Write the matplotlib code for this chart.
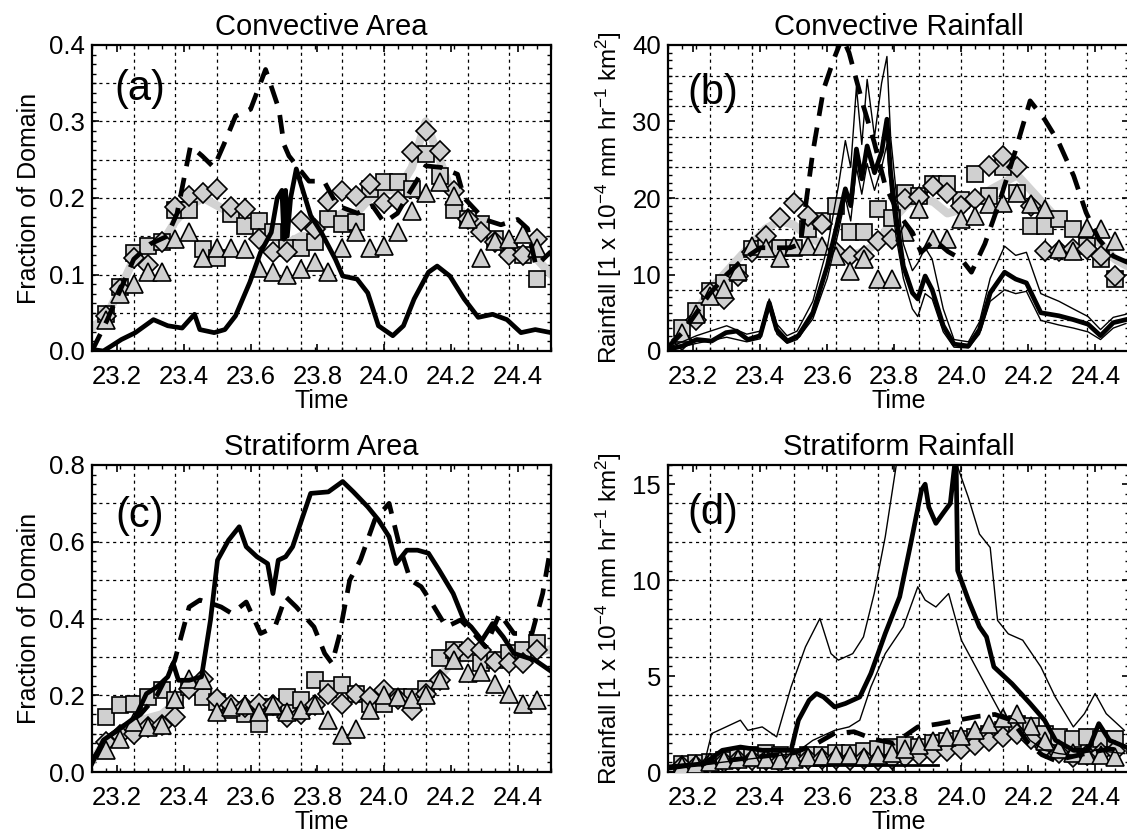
import numpy as np
import matplotlib
matplotlib.use("Agg")
import matplotlib.pyplot as plt
from matplotlib.ticker import MultipleLocator, FormatStrFormatter

plt.rcParams['font.family'] = ['Liberation Sans', 'DejaVu Sans']
plt.rcParams['mathtext.fontset'] = 'custom'
plt.rcParams['mathtext.rm'] = 'Liberation Sans'
plt.rcParams['mathtext.it'] = 'Liberation Sans'

# ---------------- time axes ----------------
marker_hours = np.arange(4, 36)          # hourly marker times (hour of day 23)
gray_hours = np.arange(3, 37)
marker_t = 23 + marker_hours / 24.0
gray_t = 23 + gray_hours / 24.0

# ---------------- (a) Convective Area ----------------
sq_a = [0.048, 0.084, 0.128, 0.137, 0.142, 0.184, 0.184, 0.133, 0.122, 0.179, 0.164, 0.170, 0.155, 0.135, 0.135, 0.142,
        0.172, 0.166, 0.169, 0.212, 0.221, 0.221, 0.212, 0.257, 0.229, 0.184, 0.172, 0.166, 0.146, 0.133, 0.125, 0.094]
dm_a = [0.046, 0.081, 0.122, 0.113, 0.142, 0.188, 0.203, 0.207, 0.212, 0.188, 0.185, 0.146, 0.129, 0.129, 0.170, 0.159,
        0.196, 0.209, 0.203, 0.218, 0.194, 0.196, 0.260, 0.288, 0.262, 0.209, 0.172, 0.155, 0.142, 0.126, 0.126, 0.146]
tr_a = [0.041, 0.074, 0.087, 0.103, 0.103, 0.146, 0.155, 0.122, 0.135, 0.135, 0.133, 0.109, 0.103, 0.100, 0.107, 0.116,
        0.103, 0.135, 0.155, 0.135, 0.137, 0.155, 0.183, 0.207, 0.221, 0.203, 0.172, 0.122, 0.144, 0.146, 0.153, 0.135]
gray_a = [0.03, 0.045, 0.08, 0.12, 0.13, 0.14, 0.17, 0.19, 0.20, 0.19, 0.18, 0.18, 0.16, 0.15, 0.14, 0.15, 0.15,
          0.17, 0.18, 0.18, 0.20, 0.21, 0.21, 0.24, 0.30, 0.25, 0.20, 0.17, 0.15, 0.14, 0.13, 0.13, 0.12, 0.10]
solid_a_t = [23.125, 23.159, 23.181, 23.213, 23.255, 23.309, 23.352, 23.395, 23.432, 23.448, 23.491, 23.523, 23.555,
             23.598, 23.630, 23.662, 23.680, 23.694, 23.700, 23.705, 23.710, 23.720, 23.737, 23.780, 23.812, 23.854,
             23.876, 23.919, 23.951, 23.983, 24.026, 24.058, 24.090, 24.133, 24.159, 24.197, 24.240, 24.282, 24.325,
             24.368, 24.410, 24.453, 24.500]
solid_a = [0.002, 0.000, 0.006, 0.015, 0.024, 0.041, 0.033, 0.030, 0.048, 0.028, 0.024, 0.028, 0.046,
           0.090, 0.129, 0.155, 0.200, 0.210, 0.146, 0.210, 0.150, 0.200, 0.238, 0.177, 0.155, 0.120,
           0.098, 0.094, 0.076, 0.033, 0.020, 0.033, 0.068, 0.103, 0.111, 0.098, 0.068, 0.044, 0.048,
           0.041, 0.024, 0.028, 0.024]
dash_a_t = [23.125, 23.17, 23.21, 23.25, 23.30, 23.35, 23.38, 23.42, 23.455, 23.49, 23.52, 23.555, 23.60, 23.645,
            23.685, 23.70, 23.715, 23.775, 23.82, 23.86, 23.92, 23.965, 24.0, 24.04, 24.08, 24.125, 24.17, 24.22,
            24.24, 24.30, 24.35, 24.40, 24.43, 24.455, 24.50]
dash_a = [0.0, 0.04, 0.08, 0.12, 0.14, 0.15, 0.18, 0.268, 0.255, 0.24, 0.27, 0.307, 0.316, 0.368,
          0.316, 0.27, 0.255, 0.222, 0.222, 0.19, 0.18, 0.19, 0.168, 0.18, 0.21, 0.242, 0.24, 0.231,
          0.20, 0.172, 0.165, 0.172, 0.16, 0.111, 0.13]

# ---------------- (b) Convective Rainfall ----------------
sq_b = [3.0, 5.2, 7.9, 8.9, 10.2, 13.3, 13.5, 13.5, 13.5, 16.0, 17.0, 19.0, 15.5, 15.5, 18.5, 17.4,
        20.7, 20.3, 21.8, 21.8, 19.8, 23.1, 20.3, 24.0, 20.7, 16.4, 16.4, 17.2, 15.9, 13.7, 12.0, 9.4]
dm_b = [1.5, 4.1, 7.6, 6.8, 9.8, 12.9, 15.0, 17.4, 19.4, 17.7, 16.6, 12.9, 12.4, 12.4, 14.4, 14.6,
        19.9, 20.1, 21.6, 20.7, 19.0, 19.9, 24.2, 25.5, 24.0, 19.0, 13.1, 13.1, 13.3, 13.3, 12.4, 9.8]
tr_b = [2.4, 4.8, 7.2, 8.1, 10.5, 13.7, 13.5, 12.2, 13.7, 13.7, 13.7, 12.4, 10.5, 12.0, 9.4, 9.4,
        15.5, 18.5, 14.6, 14.6, 17.2, 17.7, 19.2, 19.4, 20.7, 19.2, 18.5, 13.3, 13.1, 16.1, 15.9, 14.4]
gray_b = [0.5, 2.0, 5.0, 8.0, 10.0, 12.0, 14.0, 16.0, 17.0, 16.5, 15.0, 14.0, 13.0, 12.5, 13.0, 14.0, 17.0,
          19.0, 20.0, 19.5, 18.0, 18.5, 20.0, 21.0, 22.0, 23.0, 21.0, 19.0, 17.0, 16.0, 15.0, 14.0, 12.0, 11.0]
solid_b_t = [23.125, 23.168, 23.211, 23.255, 23.298, 23.330, 23.363, 23.400, 23.427, 23.449, 23.481, 23.514, 23.557,
             23.600, 23.633, 23.654, 23.670, 23.687, 23.703, 23.719, 23.741, 23.762, 23.778, 23.789, 23.805, 23.827,
             23.854, 23.870, 23.892, 23.913, 23.946, 23.978, 24.021, 24.054, 24.086, 24.129, 24.162, 24.194, 24.237,
             24.291, 24.334, 24.378, 24.415, 24.453, 24.491]
solid_b = [0.2, 0.65, 1.5, 1.3, 2.4, 2.6, 1.5, 2.0, 6.3, 2.8, 1.3, 2.0, 5.0,
           11.1, 17.2, 21.2, 19.0, 26.4, 22.5, 26.8, 23.3, 26.0, 30.3, 23.3, 17.7, 11.1,
           7.6, 6.8, 9.8, 8.0, 3.3, 0.9, 0.65, 2.8, 7.6, 10.3, 9.4, 8.9, 5.0,
           4.6, 4.1, 3.5, 2.0, 3.7, 4.1]
thin_b_t = [23.125, 23.21, 23.30, 23.36, 23.40, 23.427, 23.45, 23.48, 23.51, 23.557, 23.60, 23.633, 23.654, 23.67,
            23.687, 23.703, 23.719, 23.741, 23.762, 23.778, 23.789, 23.805, 23.827, 23.854, 23.87, 23.892, 23.913,
            23.946, 23.978, 24.021, 24.054, 24.086, 24.129, 24.162, 24.194, 24.237, 24.291, 24.334, 24.378, 24.415,
            24.453, 24.491]
thin_hi_b = [0.4, 2.0, 3.3, 2.2, 2.6, 6.8, 3.5, 2.0, 2.6, 6.5, 13.5, 21.5, 27.5, 24.0,
             34.5, 27.0, 35.5, 28.0, 35.0, 38.5, 28.0, 21.0, 14.0, 10.5, 11.5, 13.5, 12.0,
             5.5, 1.5, 1.2, 3.8, 9.5, 13.7, 12.5, 12.9, 7.5, 6.5, 5.5, 4.5, 2.8,
             4.4, 4.8]
thin_lo_b = [0.1, 1.0, 1.8, 1.2, 1.6, 5.5, 2.2, 1.0, 1.5, 4.2, 9.5, 15.5, 20.0, 17.0,
             24.0, 20.5, 24.5, 21.0, 24.0, 27.0, 21.0, 15.0, 9.5, 5.5, 4.5, 7.5, 6.8,
             2.5, 0.5, 0.4, 2.2, 6.5, 8.0, 7.5, 7.8, 4.0, 3.4, 3.0, 2.5, 1.5,
             3.0, 3.6]
dash_b_t = [23.125, 23.17, 23.21, 23.25, 23.30, 23.35, 23.40, 23.45, 23.49, 23.52, 23.557, 23.589, 23.62, 23.645,
            23.665, 23.708, 23.74, 23.773, 23.816, 23.854, 23.88, 23.92, 23.96, 24.0, 24.03, 24.07, 24.11, 24.16,
            24.205, 24.248, 24.29, 24.335, 24.372, 24.41, 24.453, 24.5]
dash_b = [0.5, 2.5, 5.0, 7.5, 10.0, 12.0, 13.5, 13.5, 13.5, 14.0, 26.0, 34.2, 38.2, 41.0,
          39.0, 32.0, 27.3, 21.6, 17.7, 15.5, 12.9, 14.5, 13.0, 12.0, 10.3, 14.0, 19.0, 26.0,
          32.7, 30.3, 27.3, 22.9, 18.1, 14.6, 12.4, 11.5]

# ---------------- (c) Stratiform Area ----------------
sq_c = [0.143, 0.174, 0.178, 0.196, 0.213, 0.187, 0.222, 0.196, 0.183, 0.161, 0.152, 0.126, 0.170, 0.196, 0.187, 0.239,
        0.217, 0.226, 0.204, 0.178, 0.178, 0.196, 0.196, 0.217, 0.296, 0.317, 0.309, 0.283, 0.291, 0.309, 0.317, 0.335]
dm_c = [0.078, 0.096, 0.100, 0.117, 0.122, 0.143, 0.217, 0.243, 0.191, 0.174, 0.170, 0.178, 0.174, 0.143, 0.152, 0.174,
        0.204, 0.178, 0.204, 0.196, 0.213, 0.191, 0.161, 0.204, 0.239, 0.309, 0.322, 0.317, 0.287, 0.283, 0.283, 0.317]
tr_c = [0.057, 0.087, 0.130, 0.117, 0.122, 0.191, 0.243, 0.239, 0.157, 0.170, 0.174, 0.157, 0.174, 0.157, 0.161, 0.174,
        0.135, 0.096, 0.113, 0.161, 0.200, 0.196, 0.191, 0.200, 0.239, 0.291, 0.257, 0.261, 0.230, 0.204, 0.178, 0.187]
gray_c = [0.03, 0.08, 0.11, 0.13, 0.14, 0.15, 0.18, 0.22, 0.22, 0.19, 0.17, 0.16, 0.16, 0.17, 0.17, 0.17, 0.18,
          0.19, 0.19, 0.19, 0.19, 0.19, 0.19, 0.20, 0.21, 0.25, 0.29, 0.30, 0.30, 0.29, 0.29, 0.30, 0.31, 0.32]
solid_c_t = [23.125, 23.159, 23.202, 23.255, 23.288, 23.320, 23.352, 23.368, 23.384, 23.416, 23.453, 23.480, 23.501,
             23.534, 23.566, 23.587, 23.619, 23.651, 23.667, 23.683, 23.705, 23.726, 23.753, 23.780, 23.833, 23.876,
             23.908, 23.951, 23.983, 24.015, 24.036, 24.068, 24.100, 24.133, 24.165, 24.207, 24.239, 24.261, 24.293,
             24.325, 24.357, 24.389, 24.421, 24.453, 24.496]
solid_c = [0.022, 0.083, 0.109, 0.143, 0.204, 0.222, 0.248, 0.283, 0.239, 0.239, 0.248, 0.396, 0.552,
           0.604, 0.639, 0.587, 0.561, 0.543, 0.465, 0.552, 0.561, 0.587, 0.657, 0.726, 0.730, 0.757,
           0.730, 0.691, 0.657, 0.613, 0.543, 0.578, 0.578, 0.570, 0.526, 0.465, 0.396, 0.378, 0.343,
           0.387, 0.352, 0.309, 0.300, 0.291, 0.265]
dash_c_t = [23.125, 23.17, 23.22, 23.27, 23.32, 23.373, 23.416, 23.448, 23.48, 23.512, 23.544, 23.587, 23.63,
            23.673, 23.705, 23.737, 23.79, 23.822, 23.844, 23.865, 23.897, 23.929, 23.972, 24.015, 24.047, 24.079,
            24.111, 24.143, 24.186, 24.229, 24.27, 24.304, 24.346, 24.389, 24.443, 24.475, 24.496]
dash_c = [0.03, 0.09, 0.12, 0.15, 0.20, 0.291, 0.43, 0.448, 0.44, 0.43, 0.413, 0.443, 0.361,
          0.378, 0.457, 0.43, 0.378, 0.309, 0.283, 0.352, 0.50, 0.552, 0.657, 0.70, 0.587, 0.50,
          0.483, 0.44, 0.378, 0.396, 0.36, 0.326, 0.413, 0.361, 0.361, 0.465, 0.57]

# ---------------- (d) Stratiform Rainfall ----------------
sq_d = [0.4, 0.45, 0.5, 0.6, 0.8, 0.9, 1.0, 0.9, 0.8, 0.9, 0.9, 1.0, 1.0, 1.1, 1.2, 1.3,
        1.4, 1.3, 1.5, 1.6, 1.7, 1.8, 2.0, 2.2, 2.5, 2.4, 2.0, 1.8, 1.7, 1.8, 1.7, 1.7]
dm_d = [0.3, 0.3, 0.4, 0.5, 0.6, 0.6, 0.6, 0.5, 0.6, 0.7, 0.7, 0.7, 0.6, 0.7, 0.6, 0.7,
        0.8, 0.9, 1.0, 1.1, 1.2, 1.4, 1.6, 1.8, 2.0, 1.7, 1.3, 1.0, 0.8, 0.9, 1.0, 1.1]
tr_d = [0.3, 0.4, 0.5, 0.6, 0.7, 0.8, 0.7, 0.6, 0.7, 0.8, 0.8, 0.9, 0.9, 0.8, 0.9, 1.0,
        1.2, 1.4, 1.6, 1.8, 1.9, 2.2, 2.5, 2.8, 3.0, 2.4, 1.6, 1.2, 1.0, 0.9, 0.9, 0.8]
gray_d = [0.2, 0.3, 0.4, 0.5, 0.6, 0.7, 0.8, 0.8, 0.7, 0.7, 0.8, 0.8, 0.9, 0.9, 0.9, 0.9, 1.0,
          1.1, 1.2, 1.3, 1.4, 1.5, 1.7, 1.9, 2.2, 2.5, 2.4, 2.0, 1.6, 1.4, 1.3, 1.3, 1.2, 1.2]
solid_d_t = [23.125, 23.233, 23.287, 23.341, 23.406, 23.449, 23.492, 23.514, 23.546, 23.568, 23.589, 23.622, 23.654,
             23.697, 23.730, 23.773, 23.816, 23.849, 23.881, 23.892, 23.903, 23.924, 23.946, 23.967, 23.978, 23.984,
             23.989, 24.021, 24.054, 24.075, 24.097, 24.151, 24.205, 24.248, 24.281, 24.335, 24.378, 24.410, 24.442,
             24.491]
solid_d = [0.26, 0.43, 1.13, 1.30, 1.13, 1.13, 1.13, 2.7, 3.74, 4.09, 3.91, 3.39, 3.57,
           3.91, 5.13, 7.22, 9.13, 11.9, 14.7, 15.0, 13.8, 12.96, 13.5, 14.0, 15.7, 16.6,
           10.5, 8.96, 7.57, 7.04, 5.48, 4.6, 3.57, 2.7, 1.65, 1.13, 1.13, 2.52, 1.65,
           1.30]
thin_hi_d_t = [23.125, 23.233, 23.255, 23.298, 23.341, 23.363, 23.406, 23.449, 23.492, 23.535, 23.578, 23.611, 23.633,
               23.676, 23.708, 23.740, 23.773, 23.805, 23.827, 23.967, 23.989, 24.021, 24.054, 24.086, 24.108, 24.140,
               24.183, 24.237, 24.280, 24.334, 24.367, 24.399, 24.432, 24.486]
thin_hi_d = [0.26, 0.43, 2.0, 2.35, 2.7, 2.17, 2.35, 1.83, 4.43, 6.52, 8.0, 6.17, 5.83,
             6.17, 7.04, 9.3, 12.26, 15.9, 18.3, 18.0, 15.9, 14.3, 12.4, 11.7, 7.9, 7.2,
             6.87, 5.48, 3.91, 2.35, 3.04, 4.09, 3.04, 2.17]
thin_lo_d_t = [23.125, 23.503, 23.557, 23.622, 23.665, 23.697, 23.730, 23.773, 23.827, 23.870, 23.892, 23.924, 23.962,
               23.984, 24.000, 24.032, 24.075, 24.118, 24.162, 24.205, 24.248, 24.291, 24.334, 24.399, 24.486]
thin_lo_d = [0.17, 0.96, 1.65, 2.17, 2.35, 2.7, 4.43, 6.17, 7.57, 9.65, 8.96, 8.6, 9.3,
             7.9, 6.87, 5.83, 4.43, 3.04, 2.7, 1.65, 1.13, 0.96, 0.87, 1.13, 0.96]
dash_d_t = [23.125, 23.25, 23.4, 23.5, 23.56, 23.62, 23.68, 23.74, 23.8, 23.87, 23.93, 23.99, 24.05, 24.1, 24.15,
            24.2, 24.24, 24.28, 24.33, 24.38, 24.44, 24.5]
dash_d = [0.2, 0.5, 0.8, 1.0, 1.4, 2.0, 2.1, 1.7, 1.5, 2.35, 2.5, 2.7, 2.9, 3.0, 2.7,
          1.5, 0.9, 0.6, 0.8, 1.0, 1.2, 1.1]
flat_d_t = [23.56, 23.93]
flat_d = [0.35, 0.35]

x_ticks = [23.2, 23.4, 23.6, 23.8, 24.0, 24.2, 24.4]

# ---------------- figure ----------------
W, H = 1127, 833
fig = plt.figure(figsize=(W / 100, H / 100), dpi=100)


def box(l, r, t, b):
    return [l / W, 1 - b / H, (r - l) / W, (b - t) / H]


GRAYFILL = '#d0d0d0'
GRAYLINE = '#d2d2d2'


def setup(ax, title, ylabel, ylim, ymajor, ygrid, yfmt, tag, tagpos, ylsize):
    ax.set_xlim(23.125, 24.5)
    ax.set_ylim(*ylim)
    ax.set_xticks(x_ticks)
    ax.xaxis.set_major_formatter(FormatStrFormatter('%.1f'))
    ax.xaxis.set_minor_locator(MultipleLocator(1 / 24.0))
    ax.yaxis.set_major_locator(MultipleLocator(ymajor))
    ax.yaxis.set_minor_locator(MultipleLocator(ygrid / 4.0))
    ax.yaxis.set_major_formatter(FormatStrFormatter(yfmt))
    ax.tick_params(which='major', direction='in', length=5, width=1.2, top=True, right=True,
                   labelsize=18.5, pad=5)
    ax.tick_params(which='minor', direction='in', length=3, width=1.0, top=True, right=True)
    ax.tick_params(axis='x', which='major', pad=10)
    for s in ax.spines.values():
        s.set_linewidth(1.6)
    for xv in np.arange(23.25, 24.49, 0.125):
        ax.axvline(xv, color='k', lw=0.9, ls=(0, (2.5, 3.0)), zorder=1)
    for yv in np.arange(ygrid, ylim[1] - 1e-9, ygrid):
        ax.axhline(yv, color='k', lw=0.9, ls=(0, (2.5, 3.0)), zorder=1)
    ax.set_title(title, fontsize=21, pad=7)
    ax.set_xlabel('Time', fontsize=18, labelpad=0)
    ax.set_ylabel(ylabel, fontsize=ylsize, labelpad=6)
    ax.text(tagpos[0], tagpos[1], tag, transform=ax.transAxes, fontsize=30,
            ha='center', va='center', zorder=6)


def draw(ax, gray, sq, dm, tr, solid_t, solid, dash_t, dash, thins=()):
    ax.plot(gray_t, gray, color=GRAYLINE, lw=6, solid_capstyle='round', zorder=2)
    kw = dict(ls='none', mfc=GRAYFILL, mec='k', mew=1.2, ms=11.5, zorder=3, clip_on=True)
    ax.plot(marker_t, sq, marker='s', **kw)
    ax.plot(marker_t, dm, marker='D', **dict(kw, ms=10.5))
    ax.plot(marker_t, tr, marker='^', **dict(kw, ms=12.5))
    for tt, yy in thins:
        ax.plot(tt, yy, color='k', lw=1.0, zorder=4)
    ax.plot(dash_t, dash, color='k', lw=3.4, ls=(0, (4, 2.5)), zorder=4)
    ax.plot(solid_t, solid, color='k', lw=3.4, zorder=5)


rain_label = r'Rainfall [1 x 10$^{\mathregular{-4}}$ mm hr$^{\mathregular{-1}}$ km$^{\mathregular{2}}$]'

ax_a = fig.add_axes(box(92, 551, 45, 351))
setup(ax_a, 'Convective Area', 'Fraction of Domain', (0, 0.4), 0.1, 0.05, '%.1f', '(a)', (0.104, 0.856), 18)
draw(ax_a, gray_a, sq_a, dm_a, tr_a, solid_a_t, solid_a, dash_a_t, dash_a)

ax_b = fig.add_axes(box(668, 1129, 45, 351))
setup(ax_b, 'Convective Rainfall', rain_label, (0, 40), 10, 4, '%d', '(b)', (0.098, 0.843), 17.5)
draw(ax_b, gray_b, sq_b, dm_b, tr_b, solid_b_t, solid_b, dash_b_t, dash_b,
     thins=[(thin_b_t, thin_hi_b), (thin_b_t, thin_lo_b)])

ax_c = fig.add_axes(box(92, 551, 465, 772))
setup(ax_c, 'Stratiform Area', 'Fraction of Domain', (0, 0.8), 0.2, 0.1, '%.1f', '(c)', (0.104, 0.834), 18)
draw(ax_c, gray_c, sq_c, dm_c, tr_c, solid_c_t, solid_c, dash_c_t, dash_c)

ax_d = fig.add_axes(box(668, 1129, 465, 772))
setup(ax_d, 'Stratiform Rainfall', rain_label, (0, 16), 5, 2, '%d', '(d)', (0.098, 0.844), 17.5)
draw(ax_d, gray_d, sq_d, dm_d, tr_d, solid_d_t, solid_d, dash_d_t, dash_d,
     thins=[(thin_hi_d_t, thin_hi_d), (thin_lo_d_t, thin_lo_d)])
ax_d.plot(flat_d_t, flat_d, color='k', lw=2.0, zorder=4)

fig.savefig('out.png', dpi=100)
